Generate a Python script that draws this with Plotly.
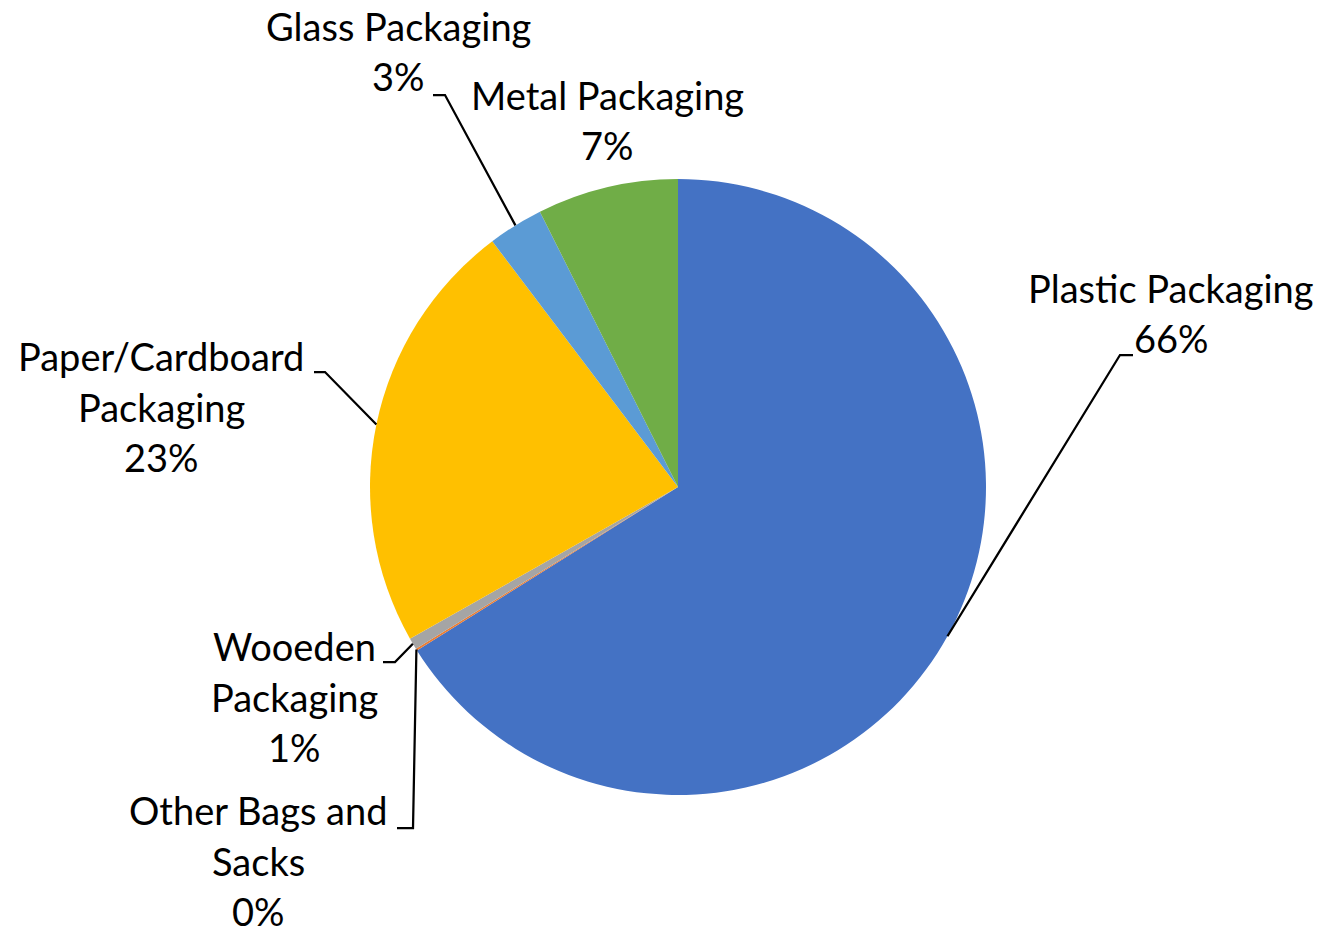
import math
import plotly.graph_objects as go

# Packaging waste composition (percent of total)
categories = ["Plastic Packaging", "Other Bags and Sacks", "Wooeden Packaging",
              "Paper/Cardboard Packaging", "Glass Packaging", "Metal Packaging"]
values = [66.1, 0.1, 0.6, 22.9, 2.9, 7.4]
colors = ["#4472C4", "#ED7D31", "#A5A5A5", "#FFC000", "#5B9BD5", "#70AD47"]

# How each category name wraps in its label
label_lines = {
    "Plastic Packaging": ["Plastic Packaging"],
    "Other Bags and Sacks": ["Other Bags and", "Sacks"],
    "Wooeden Packaging": ["Wooeden", "Packaging"],
    "Paper/Cardboard Packaging": ["Paper/Cardboard", "Packaging"],
    "Glass Packaging": ["Glass Packaging"],
    "Metal Packaging": ["Metal Packaging"],
}

# Page geometry (pixels)
W, H = 1322, 934
CX, CY, R = 678, 487, 308
LINE_GAP = 50.5
FONT = dict(family="Lato", size=38, color="#000000")

# Label placement: text centre x, first-line centre y, leader elbow (x_text_end, x_bend, y)
label_layout = {
    "Plastic Packaging": dict(x=1171, y=288, leader=(1133, 1120, 355)),
    "Other Bags and Sacks": dict(x=258, y=810, leader=(397, 413, 828)),
    "Wooeden Packaging": dict(x=294, y=646, leader=(383, 395, 662)),
    "Paper/Cardboard Packaging": dict(x=161, y=356, leader=(314, 325, 372)),
    "Glass Packaging": dict(x=398, y=26, leader=(433, 445, 95)),
    "Metal Packaging": dict(x=607, y=95, leader=None),
}


def px(x):
    return x / W


def py(y):
    return 1 - y / H


fig = go.Figure(go.Pie(
    labels=categories,
    values=values,
    sort=False,
    direction="clockwise",
    rotation=0,
    textinfo="none",
    hoverinfo="label+percent",
    marker=dict(colors=colors, line=dict(width=0)),
    domain=dict(x=[px(CX - R), px(CX + R)], y=[py(CY + R), py(CY - R)]),
))

total = sum(values)
cum = 0.0
annotations = []
shapes = []
for name, v in zip(categories, values):
    mid = (cum + v / 2) / total * 2 * math.pi
    cum += v
    ex = CX + R * math.sin(mid)
    ey = CY - R * math.cos(mid)
    lay = label_layout[name]
    lines = label_lines[name] + [f"{round(v / total * 100)}%"]
    for i, line in enumerate(lines):
        annotations.append(dict(
            text=line, x=px(lay["x"]), y=py(lay["y"] + i * LINE_GAP),
            xref="paper", yref="paper", xanchor="center", yanchor="middle",
            showarrow=False, font=FONT, borderpad=0,
        ))
    if lay["leader"] is not None:
        x0, x1, ly = lay["leader"]
        shapes.append(dict(
            type="path", xref="paper", yref="paper",
            path=f"M {px(x0)} {py(ly)} L {px(x1)} {py(ly)} L {px(ex)} {py(ey)}",
            line=dict(color="#000000", width=2.25),
        ))

fig.update_layout(
    width=W, height=H,
    margin=dict(l=0, r=0, t=0, b=0),
    paper_bgcolor="white", plot_bgcolor="white",
    showlegend=False,
    annotations=annotations,
    shapes=shapes,
)

fig.write_html("out.html")
